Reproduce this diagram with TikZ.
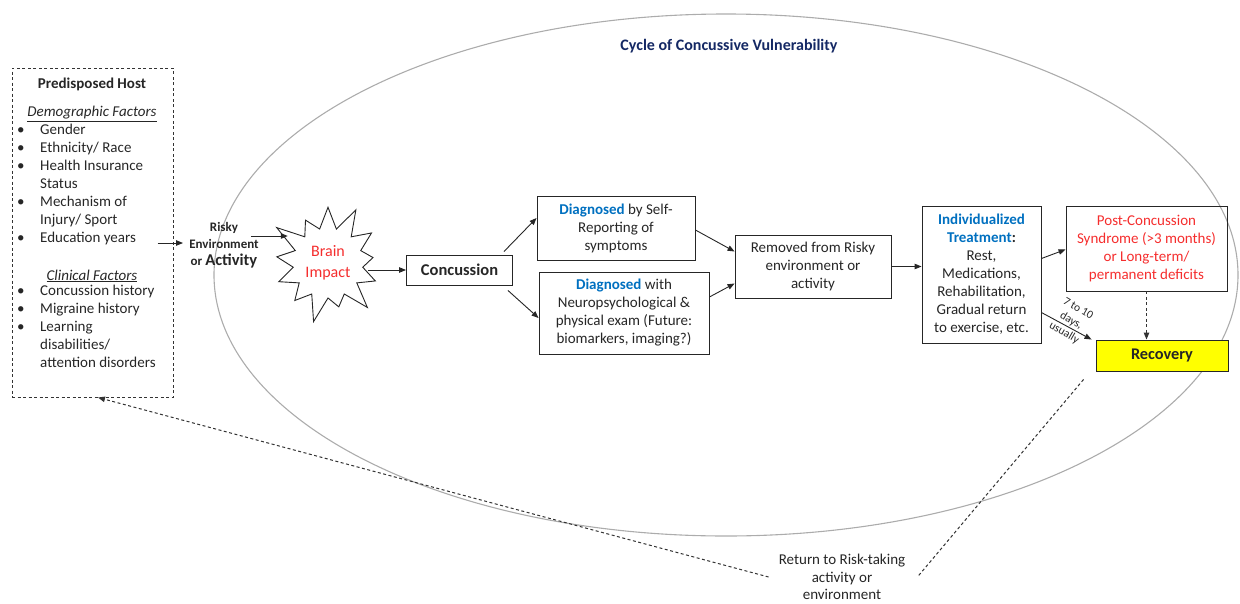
\documentclass[tikz,border=0pt]{standalone}
\usepackage{fontspec}
\setmainfont{Carlito}
\usetikzlibrary{arrows.meta,shapes.symbols,shapes.geometric}
\definecolor{diagblue}{RGB}{0,112,192}
\definecolor{redt}{RGB}{245,45,45}
\definecolor{navyt}{RGB}{20,40,100}
\definecolor{ygold}{RGB}{255,255,0}
\begin{document}
\begin{tikzpicture}[x=1pt,y=-1pt,
  every node/.style={font=\fontsize{15}{18}\selectfont, inner sep=0pt, text=black!85},
  box/.style={draw=black!85, line width=0.9pt, align=center},
  arr/.style={-{Triangle[length=7pt,width=5.5pt]}, line width=0.9pt, draw=black!85},
  dashline/.style={dash pattern=on 3pt off 2.5pt, line width=1pt, draw=black!80}
]
\useasboundingbox (0,0) rectangle (1240,603);
\draw[gray!65, line width=1.1pt] (726,275) ellipse [x radius=512, y radius=261];

\node[font=\fontsize{16}{18}\selectfont\bfseries, text=navyt] (title) at (729,46) {Cycle of Concussive Vulnerability};

% predisposed host
\node[draw=black!85, dashline, minimum width=161pt, minimum height=329pt] (host) at (92.5,232.5) {};
\node[font=\fontsize{15}{18}\selectfont\bfseries] (hosttitle) at (92,84) {Predisposed Host};
\node (demo) at (92,114) {\textit{\underline{Demographic Factors}}};
\node[anchor=north west, align=left, font=\fontsize{15}{17.9}\selectfont] (demolist) at (17,124)
 {\makebox[23pt][l]{\textbullet}Gender\\
  \makebox[23pt][l]{\textbullet}Ethnicity/ Race\\
  \makebox[23pt][l]{\textbullet}Health Insurance\\
  \hspace*{23pt}Status\\
  \makebox[23pt][l]{\textbullet}Mechanism of\\
  \hspace*{23pt}Injury/ Sport\\
  \makebox[23pt][l]{\textbullet}Education years};
\node (clin) at (92,276) {\textit{\underline{Clinical Factors}}};
\node[anchor=north west, align=left, font=\fontsize{15}{18}\selectfont] (clinlist) at (17,285)
 {\makebox[23pt][l]{\textbullet}Concussion history\\
  \makebox[23pt][l]{\textbullet}Migraine history\\
  \makebox[23pt][l]{\textbullet}Learning\\
  \hspace*{23pt}disabilities/\\
  \hspace*{23pt}attention disorders};

% risky
\node[align=center, font=\fontsize{13}{17}\selectfont\bfseries] (risky) at (224,245)
 {Risky\\Environment\\or {\fontsize{16.5}{17}\selectfont Activity}};

% starburst
\node[starburst, draw=black!85, line width=0.9pt, fill=white, minimum width=128pt, minimum height=128pt,
  starburst points=13, starburst point height=29pt, align=center, text=redt,
  font=\fontsize{16}{21}\selectfont] (star) at (328,263) {Brain\\Impact};

% boxes
\node[box, minimum width=106pt, minimum height=30pt, font=\fontsize{16.5}{18}\selectfont\bfseries] (conc) at (459.5,270) {Concussion};
\node[box, minimum width=158pt, minimum height=64pt] (diag1) at (616,228)
 {{\color{diagblue}\bfseries Diagnosed} by Self-\\Reporting of\\symptoms};
\node[box, minimum width=170pt, minimum height=82pt] (diag2) at (624,313)
 {{\color{diagblue}\bfseries Diagnosed} with\\Neuropsychological \&\\physical exam (Future:\\biomarkers, imaging?)};
\node[box, minimum width=156pt, minimum height=63pt] (removed) at (813,266.5)
 {Removed from Risky\\environment or\\activity};
\node[box, minimum width=119pt, minimum height=137pt] (indiv) at (981.5,274.5)
 {{\color{diagblue}\bfseries Individualized}\\{\color{diagblue}\bfseries Treatment}\textbf{:}\\Rest,\\Medications,\\Rehabilitation,\\Gradual return\\to exercise, etc.};
\node[box, minimum width=161pt, minimum height=85pt, text=redt] (post) at (1146.5,248.5)
 {Post-Concussion\\Syndrome (>3 months)\\or Long-term/\\permanent deficits};
\node[box, fill=ygold, minimum width=132pt, minimum height=31pt, font=\fontsize{16.3}{18}\selectfont\bfseries] (recovery) at (1162,355.5) {Recovery};
\node[align=center, font=\fontsize{15}{17.5}\selectfont] (ret) at (842,577) {Return to Risk-taking\\activity or\\environment};
\node[rotate=-30, align=center, font=\fontsize{11.5}{14}\selectfont] (days) at (1071,321) {7 to 10\\days,\\usually};

% connectors
\draw[arr] ([xshift=-16pt]host.east |- 0,243) -- (183,243) coordinate (riskin);
\draw[arr] ([xshift=-8pt,yshift=9pt]risky.east) -- ([yshift=9pt,xshift=2pt]risky.east -| star.west);
\draw[arr] (star.east |- conc.west) -- (conc.west);
\draw[arr] ([xshift=-9pt,yshift=3pt]conc.north east) -- ([yshift=10pt]diag1.west);
\draw[arr] ([xshift=-5pt,yshift=-5pt]conc.south east) -- ([yshift=-5pt]diag2.west);
\draw[arr] ([yshift=-2pt]diag1.east) -- ([yshift=15pt]removed.west);
\draw[arr] ([yshift=16pt]diag2.east) -- ([yshift=-17pt]removed.west);
\draw[arr] (removed.east) -- (indiv.west |- removed.east);
\draw[arr] ([yshift=16pt]indiv.east) -- ([yshift=-1pt]post.west);
\draw[arr] ([yshift=-38pt]indiv.east) -- ([xshift=-4pt]recovery.north west);
\draw[arr, dashline] (post.south) -- (recovery.north -| post.south);
\draw[dashline] ([xshift=-12pt,yshift=-8pt]recovery.south west) -- ([xshift=12pt]ret.east);
\draw[arr, dashline] ([xshift=-10pt]ret.west) -- ([xshift=5.5pt]host.south);
\end{tikzpicture}
\end{document}
